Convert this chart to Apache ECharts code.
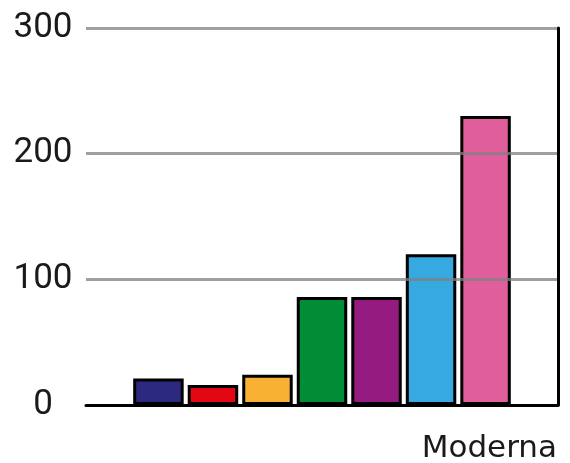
<!DOCTYPE html>
<html>
<head>
<meta charset="utf-8">
<script src="https://cdn.jsdelivr.net/npm/echarts@6/dist/echarts.min.js"></script>
<style>
  html, body { margin: 0; padding: 0; background: #fff; }
  #vaccineChart { width: 570px; height: 463px; }
</style>
</head>
<body>
<div id="vaccineChart"></div>
<script>
// one category, each bar its own series
const categories = ['Moderna']
const seriesNames = ['s1', 's2', 's3', 's4', 's5', 's6', 's7']
const seriesValues = [21, 16, 24, 86, 86, 120, 230]
const seriesColors = ['#2b2a80', '#e30613', '#f8b133', '#008d36', '#951b81', '#36a9e1', '#df5e9b']
const yTicks = [0, 100, 200, 300]

const chartDom = document.getElementById('vaccineChart')
const chart = echarts.init(chartDom)

const option = {
  animation: false,
  grid: {
    left: 86,
    right: 12,
    top: 28,
    bottom: 58,
    outerBoundsMode: 'none'
  },
  xAxis: {
    type: 'category',
    data: categories,
    name: categories[0],
    nameLocation: 'end',
    nameGap: -1,
    nameTextStyle: {
      fontFamily: 'DejaVu Sans',
      fontSize: 31,
      color: '#1a1a1a',
      align: 'right',
      verticalAlign: 'top',
      padding: [28, 0, 0, 0]
    },
    axisLine: {
      lineStyle: { color: '#000', width: 3 }
    },
    axisTick: { show: false },
    axisLabel: { show: false },
    z: 5
  },
  yAxis: [
    {
      type: 'value',
      min: yTicks[0],
      max: yTicks[yTicks.length - 1],
      interval: 100,
      axisLine: { show: false },
      axisTick: { show: false },
      axisLabel: {
        fontFamily: 'Roboto',
        fontSize: 35,
        color: '#1a1a1a',
        align: 'center',
        margin: 43
      },
      splitLine: {
        lineStyle: { color: 'rgba(128,128,128,0.75)', width: 3 }
      },
      z: 5
    },
    {
      type: 'value',
      position: 'right',
      min: yTicks[0],
      max: yTicks[yTicks.length - 1],
      interval: 100,
      axisLine: {
        show: true,
        lineStyle: { color: '#000', width: 3 }
      },
      axisTick: { show: false },
      axisLabel: { show: false },
      splitLine: { show: false },
      z: 5
    }
  ],
  series: seriesNames.map((name, i) => ({
    name: name,
    type: 'bar',
    data: [seriesValues[i]],
    barCategoryGap: '20%',
    barGap: '8%',
    itemStyle: {
      color: seriesColors[i],
      borderColor: '#000',
      borderWidth: 3
    }
  }))
}

option && chart.setOption(option)
</script>
</body>
</html>
